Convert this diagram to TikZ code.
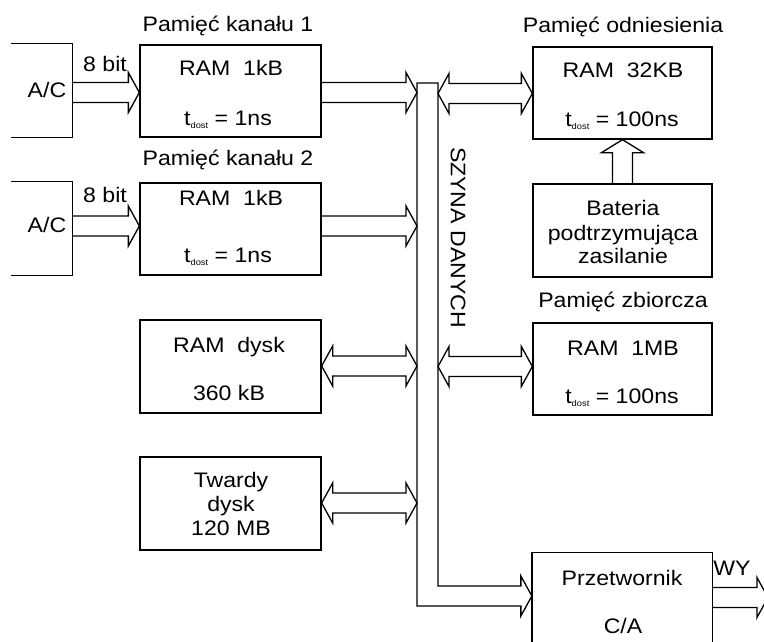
\documentclass[tikz,border=0pt]{standalone}
\usepackage{fontspec}
\setmainfont{Liberation Sans}[FakeStretch=1.1]
\usetikzlibrary{calc}
\newcommand\fatR[2]{\draw[conn] ($(#1)+(0,-10)$) -- ($(#2)+(-11,-10)$) -- ($(#2)+(-11,-20)$) -- (#2) -- ($(#2)+(-11,20)$) -- ($(#2)+(-11,10)$) -- ($(#1)+(0,10)$);}
\newcommand\fatLR[2]{\draw[conn] (#1) -- ($(#1)+(11,-20)$) -- ($(#1)+(11,-10)$) -- ($(#2)+(-11,-10)$) -- ($(#2)+(-11,-20)$) -- (#2) -- ($(#2)+(-11,20)$) -- ($(#2)+(-11,10)$) -- ($(#1)+(11,10)$) -- ($(#1)+(11,20)$) -- cycle;}
\newcommand\tdost{t\raisebox{-3.5pt}{\fontsize{8.5}{8.5}\selectfont dost}}
\begin{document}
\begin{tikzpicture}[x=1pt,y=-1pt,
  every node/.style={font=\fontsize{21}{24}\selectfont, inner sep=0pt},
  conn/.style={line width=1.3pt, line join=miter},
  box/.style={draw, line width=1.3pt, minimum height=92pt},
  lbox/.style={box, minimum width=181pt},
  rbox/.style={box, minimum width=179pt},
  frame/.style={minimum width=61pt, minimum height=93pt},
  txt/.style={anchor=base}]
\useasboundingbox (0,0) rectangle (764,642);
\clip (0,0) rectangle (764,642);

% A/C frames (open on the left)
\node[frame] (ac1) at (41.5,90.5) {};
\node[frame] (ac2) at (41.5,228.5) {};
\draw[conn] (ac1.north west) -- (ac1.north east) -- (ac1.south east) -- (ac1.south west);
\draw[conn] (ac2.north west) -- (ac2.north east) -- (ac2.south east) -- (ac2.south west);
\node[txt] (act1) at (47,98) {A/C};
\node[txt] (act2) at (47,232) {A/C};
\node[txt] (bit1) at (105,72) {8 bit};
\node[txt] (bit2) at (105,202) {8 bit};

% left boxes
\node[lbox] (b1) at (230.5,91) {};
\node[lbox] (b2) at (230.5,229) {};
\node[lbox, minimum height=93pt] (b3) at (230.5,366.5) {};
\node[lbox, minimum height=93pt] (b4) at (230.5,503.5) {};

\node[txt] (t1) at (228,32) {Pamięć kanału 1};
\node[txt] (t2) at (228,165) {Pamięć kanału 2};

\node[txt] at (231,76) {RAM\ \ 1kB};
\node[txt] at (228,125) {\tdost\ = 1ns};
\node[txt] at (231,205) {RAM\ \ 1kB};
\node[txt] at (228,262) {\tdost\ = 1ns};
\node[txt] at (229,352) {RAM\ \ dysk};
\node[txt] at (229,400) {360 kB};
\node[txt] at (231,487) {Twardy};
\node[txt] at (231,511) {dysk};
\node[txt] at (231,535) {120 MB};

% right boxes
\node[rbox] (r1) at (622.5,93) {};
\node[rbox, minimum height=93pt] (bat) at (622.5,230.5) {};
\node[rbox] (r2) at (622.5,369) {};
\node[rbox, draw=none, minimum height=107pt] (prz) at (622,606.5) {};
\draw[conn] (prz.south west) -- (prz.north west) -- (prz.north east) -- (prz.south east);

\node[txt] at (623,33) {Pamięć odniesienia};
\node[txt] at (623,78) {RAM\ \ 32KB};
\node[txt] at (622,126) {\tdost\ = 100ns};
\node[txt] at (623,215) {Bateria};
\node[txt] at (623,240) {podtrzymująca};
\node[txt] at (623,263) {zasilanie};
\node[txt] at (623,307) {Pamięć zbiorcza};
\node[txt] at (623,355) {RAM\ \ 1MB};
\node[txt] at (622,403) {\tdost\ = 100ns};
\node[txt] at (622,585) {Przetwornik};
\node[txt] at (623,633) {C/A};
\node[txt] (wy) at (732,575) {WY};

% data bus
\coordinate (busL) at (417,83);
\coordinate (busR) at (438,83);
\coordinate (przin) at (prz.west |- 0,596);
\draw[conn] (busL) -- (busL |- 0,606) -- ($(przin)+(-11,10)$) -- ($(przin)+(-11,20)$) -- (przin)
  -- ($(przin)+(-11,-20)$) -- ($(przin)+(-11,-10)$) -- (busR |- 0,586) -- (busR) -- cycle;
\node[rotate=-90] (bus) at (458,237.5) {SZYNA DANYCH};

% arrows into the RAM buffers and onto the bus
\coordinate (a1s) at (ac1.east |- 0,92.5);  \coordinate (a1e) at (b1.west |- 0,92.5);
\coordinate (a2s) at (ac2.east |- 0,226);   \coordinate (a2e) at (b2.west |- 0,226);
\fatR{a1s}{a1e}
\fatR{a2s}{a2e}
\coordinate (c1s) at (b1.east |- 0,92.5);  \coordinate (c1e) at (busL |- 0,92.5);
\coordinate (c2s) at (b2.east |- 0,226);   \coordinate (c2e) at (busL |- 0,226);
\fatR{c1s}{c1e}
\fatR{c2s}{c2e}

% bidirectional arrows
\coordinate (d3s) at (b3.east |- 0,366);  \coordinate (d3e) at (busL |- 0,366);
\coordinate (d4s) at (b4.east |- 0,503);  \coordinate (d4e) at (busL |- 0,503);
\fatLR{d3s}{d3e}
\fatLR{d4s}{d4e}
\coordinate (e1s) at (busR |- 0,93.5);   \coordinate (e1e) at (r1.west |- 0,93.5);
\coordinate (e2s) at (busR |- 0,366.5);  \coordinate (e2e) at (r2.west |- 0,366.5);
\fatLR{e1s}{e1e}
\fatLR{e2s}{e2e}

% battery -> reference memory
\coordinate (ut) at (r1.south);
\draw[conn] ($(bat.north)+(-10,0)$) -- ($(ut)+(-10,13)$) -- ($(ut)+(-21,13)$) -- (ut)
  -- ($(ut)+(21,13)$) -- ($(ut)+(10,13)$) -- ($(bat.north)+(10,0)$);

% output
\coordinate (os) at (prz.east |- 0,597.5);
\coordinate (oe) at (768,597.5);
\fatR{os}{oe}
\end{tikzpicture}
\end{document}
